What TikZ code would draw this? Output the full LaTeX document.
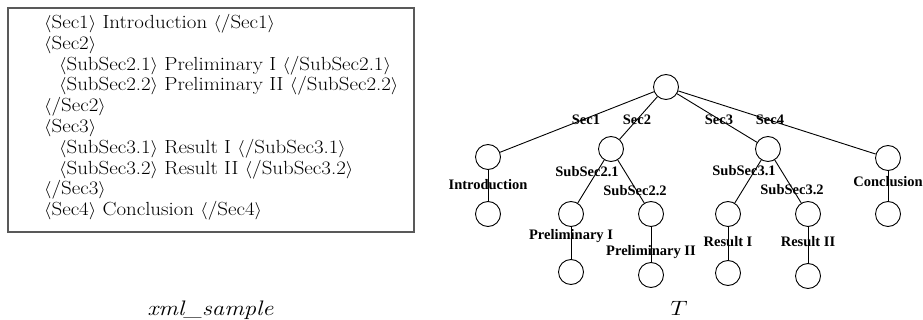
\documentclass[tikz,border=0pt]{standalone}
\usepackage{fontspec}
\newfontfamily\tnr{Liberation Serif}
\newcommand{\wide}[1]{\scalebox{1.1}[1]{#1}}
\newcommand{\capwide}[1]{\scalebox{1.17}[1]{#1}}
\begin{document}
\begin{tikzpicture}[x=1pt,y=-1pt,
  vtx/.style={circle,draw,line width=0.9pt,minimum size=25pt,inner sep=0pt},
  edge/.style={line width=0.9pt},
  lbl/.style={font=\tnr\bfseries\fontsize{14.5}{16}\selectfont,inner sep=0pt},
  xml/.style={font=\fontsize{19}{21}\selectfont,anchor=base west,inner sep=0pt},
  captext/.style={font=\fontsize{21}{23}\selectfont,anchor=base,inner sep=0pt}]
\useasboundingbox (0,0) rectangle (923,320);
% XML box
\draw[line width=1.5pt,draw=black!65] (8,8) rectangle (414,232);
\node[xml] (x1) at (44,28.5) {\wide{$\langle$Sec1$\rangle$ Introduction $\langle$/Sec1$\rangle$}};
\node[xml] (x2) at (44,49.3) {\wide{$\langle$Sec2$\rangle$}};
\node[xml] (x3) at (59,70.1) {\wide{$\langle$SubSec2.1$\rangle$ Preliminary I $\langle$/SubSec2.1$\rangle$}};
\node[xml] (x4) at (59,90.9) {\wide{$\langle$SubSec2.2$\rangle$ Preliminary II $\langle$/SubSec2.2$\rangle$}};
\node[xml] (x5) at (44,111.7) {\wide{$\langle$/Sec2$\rangle$}};
\node[xml] (x6) at (44,132.5) {\wide{$\langle$Sec3$\rangle$}};
\node[xml] (x7) at (59,153.3) {\wide{$\langle$SubSec3.1$\rangle$ Result I $\langle$/SubSec3.1$\rangle$}};
\node[xml] (x8) at (59,174.1) {\wide{$\langle$SubSec3.2$\rangle$ Result II $\langle$/SubSec3.2$\rangle$}};
\node[xml] (x9) at (44,194.9) {\wide{$\langle$/Sec3$\rangle$}};
\node[xml] (x10) at (44,215.7) {\wide{$\langle$Sec4$\rangle$ Conclusion $\langle$/Sec4$\rangle$}};
% captions
\node[captext] (c1) at (210.5,315) {\capwide{\textit{xml\_sample}}};
\node[captext] (c2) at (679,315) {\capwide{$T$}};
% tree vertices
\node[vtx] (r) at (666,87) {};
\node[vtx] (n1) at (488,157) {};
\node[vtx] (l1) at (488,214) {};
\node[vtx] (n2) at (611,149) {};
\node[vtx] (n21) at (571,214) {};
\node[vtx] (l21) at (571,272) {};
\node[vtx] (n22) at (651,214) {};
\node[vtx] (l22) at (651,275) {};
\node[vtx] (n3) at (768,149) {};
\node[vtx] (n31) at (728,214) {};
\node[vtx] (l31) at (728,273) {};
\node[vtx] (n32) at (808,214) {};
\node[vtx] (l32) at (808,276) {};
\node[vtx] (n4) at (888,158) {};
\node[vtx] (l4) at (888,214) {};
% edges
\draw[edge] (r) -- (n1);
\draw[edge] (r) -- (n2);
\draw[edge] (r) -- (n3);
\draw[edge] (r) -- (n4);
\draw[edge] (n1) -- (l1);
\draw[edge] (n2) -- (n21);
\draw[edge] (n2) -- (n22);
\draw[edge] (n21) -- (l21);
\draw[edge] (n22) -- (l22);
\draw[edge] (n3) -- (n31);
\draw[edge] (n3) -- (n32);
\draw[edge] (n31) -- (l31);
\draw[edge] (n32) -- (l32);
\draw[edge] (n4) -- (l4);
% labels
\node[lbl] (s1) at (586,120) {Sec1};
\node[lbl] (s2) at (637,120) {Sec2};
\node[lbl] (s3) at (719,120) {Sec3};
\node[lbl] (s4) at (770,120) {Sec4};
\node[lbl] (t1) at (488,185) {Introduction};
\node[lbl] (t21) at (587,172) {SubSec2.1};
\node[lbl] (t22) at (635,191) {SubSec2.2};
\node[lbl] (p1) at (571,236) {Preliminary I};
\node[lbl] (p2) at (651,252) {Preliminary II};
\node[lbl] (t31) at (744,171) {SubSec3.1};
\node[lbl] (t32) at (792,190) {SubSec3.2};
\node[lbl] (t4) at (888,182) {Conclusion};
\node[lbl] (q1) at (728,242) {Result I};
\node[lbl] (q2) at (808,242) {Result II};
\end{tikzpicture}
\end{document}
